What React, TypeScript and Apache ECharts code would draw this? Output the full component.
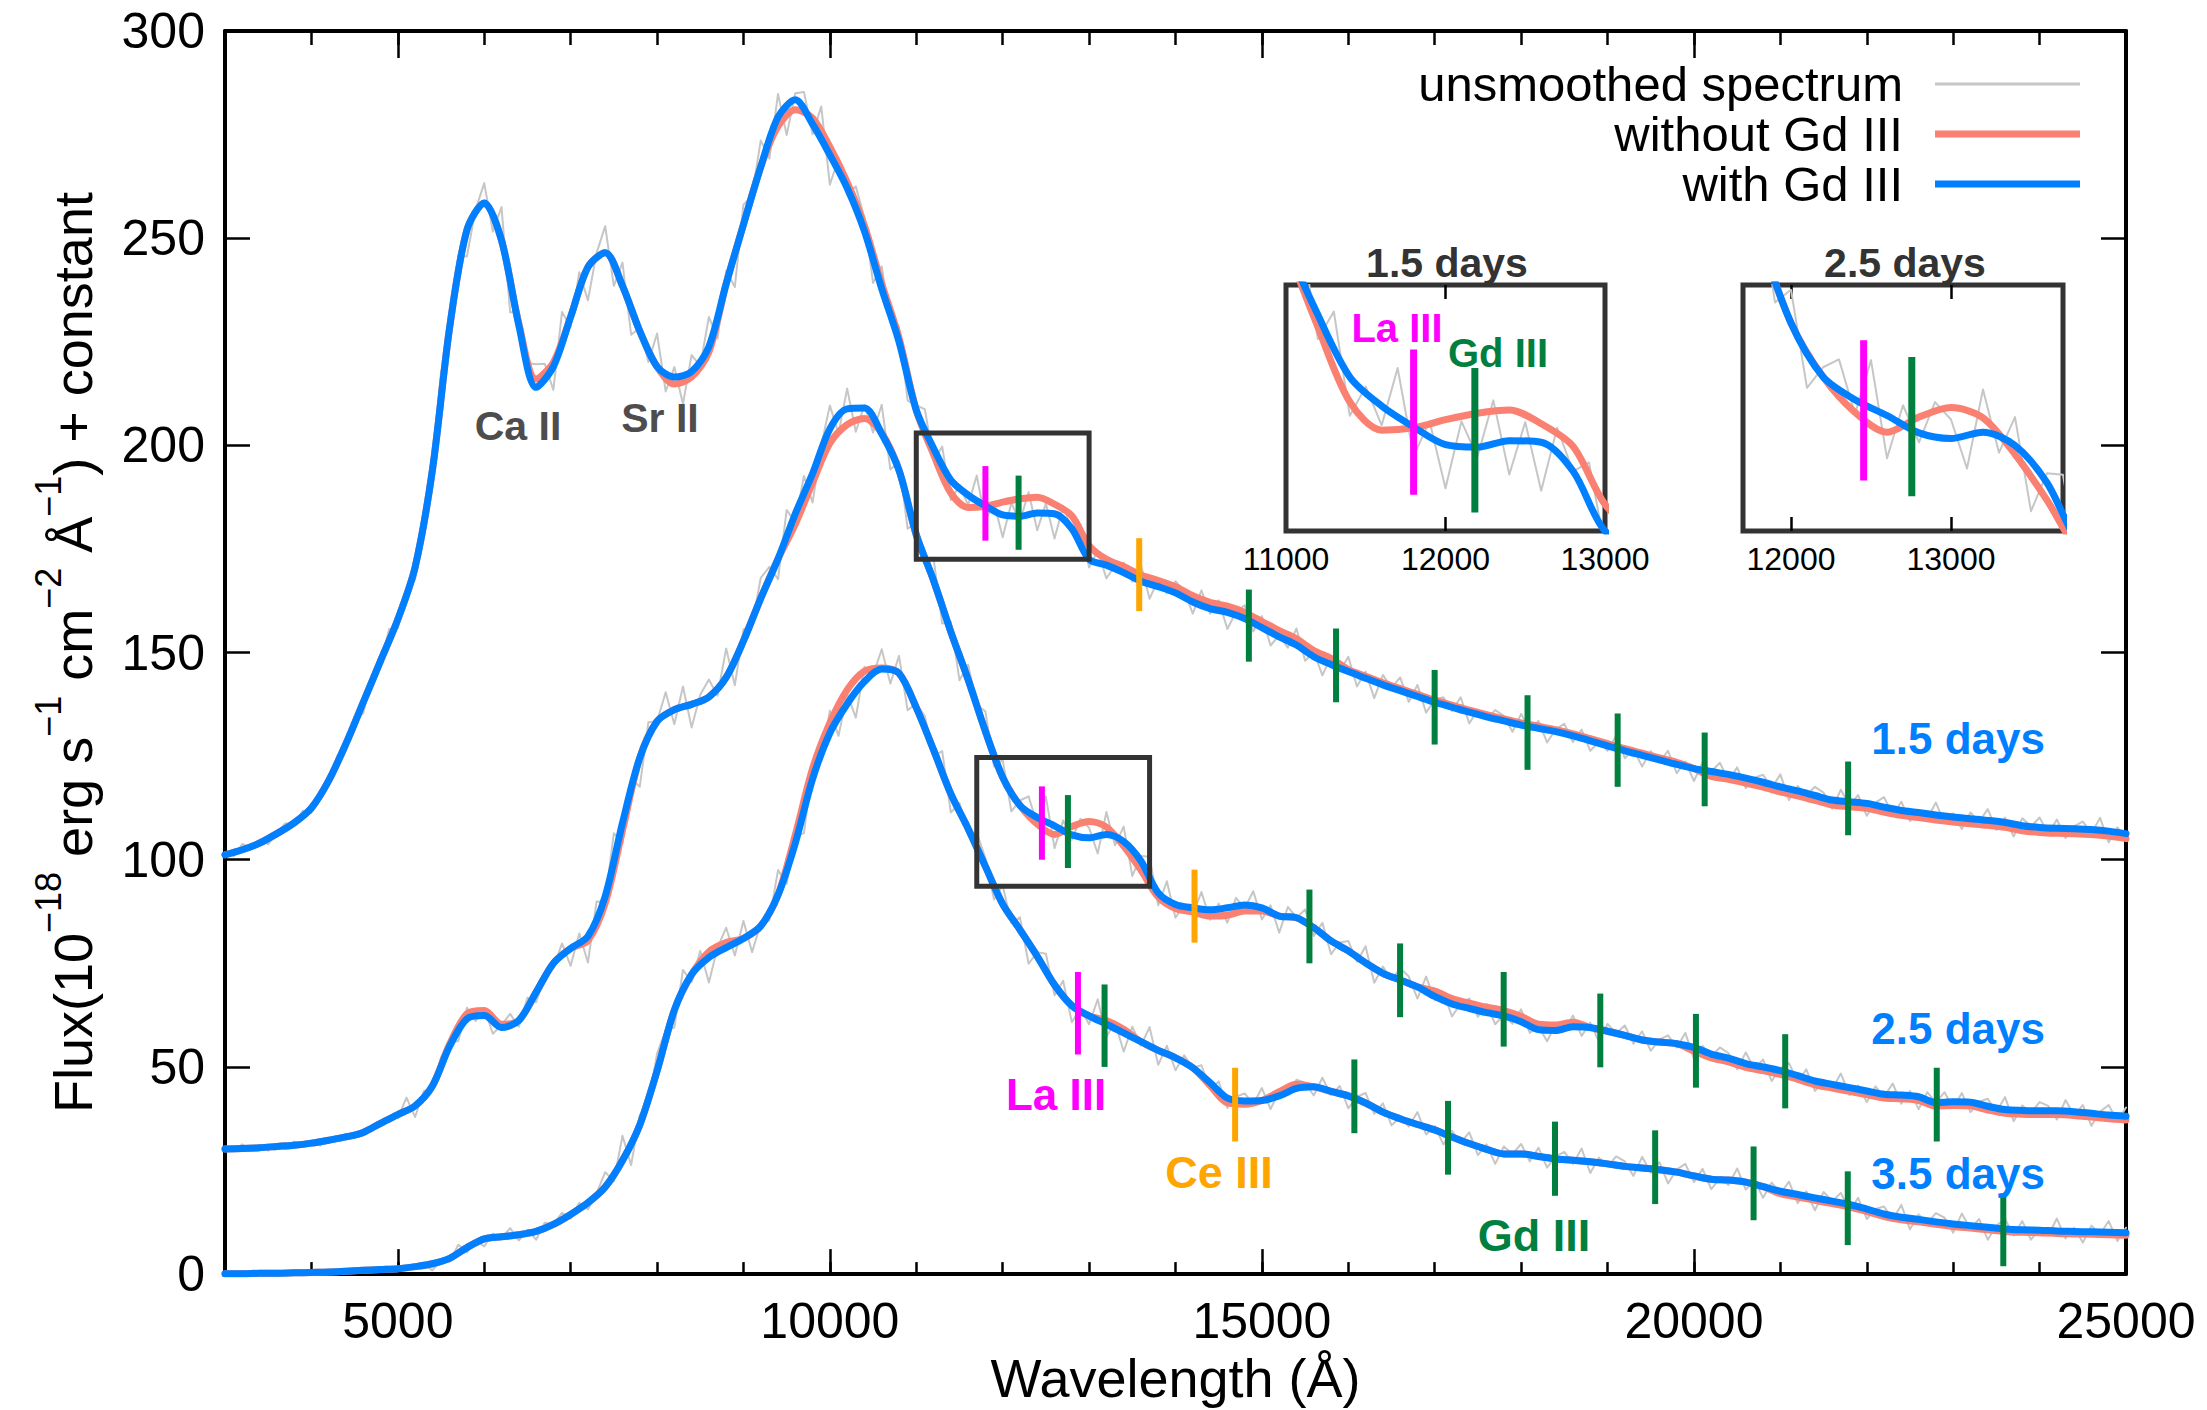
import React, { useEffect, useRef } from "react";
import * as echarts from "echarts";

const W = 2207;
const H = 1410;
const FONT = "'Liberation Sans', Arial, Helvetica, sans-serif";

// wavelength grids (Angstrom)
const SMOOTH_START = 3000;
const SMOOTH_STEP = 200;
const RAW_START = 3000;
const RAW_STEP = 100;

// ---------- 1.5 days ----------
const with15 = [101.2,102.4,104.0,106.3,108.9,112.5,119.1,128,138,148,158,170.6,194,228.5,252,258.5,249.5,229,214,219,231,243,246.5,238.5,227.6,219,216.5,217.8,223.8,239,253.3,267.2,279.2,283.4,277.5,270.1,262.1,251.7,237.8,225,208.5,199.3,191.6,188,185.4,183.2,182.9,183.7,183.5,179.9,172.5,171.1,169.3,167.2,165.9,164.4,162.2,160.6,159.7,158.2,156,153.8,151.8,149,147.1,145.4,143.8,142.2,140.8,139.4,138,136.8,135.6,134.5,133.5,132.5,131.7,130.9,129.9,128.7,127.5,126.3,125.2,124.1,123,122,121.3,120.6,119.7,118.7,117.6,116.6,115.5,114.4,114,113.6,112.7,111.9,111.4,110.8,110.3,109.9,109.5,109,108.2,107.8,107.6,107.5,107.3,106.9,106.3];
const without15 = [101.2,102.4,104.0,106.3,108.9,112.5,119.1,128,138,148,158,170.6,194,228.5,252,258.5,249.5,229.5,216,220,231,243,246.5,238.5,227.6,219,214.8,216.5,222.5,239,253.3,267.2,277,281,279,272,263.5,253,239,226,208.5,197.8,188.5,185,185.3,186.3,187.1,187.5,185.8,183,175.8,172.5,170.8,168.7,167.4,165.9,163.7,162.1,161.2,159.7,157.5,155.3,153.3,150.5,148.6,145.9,144.3,142.7,141.3,139.9,138.5,137.3,136.1,135,134,133,132.2,131.4,130.4,129.2,128,126.8,125.7,124.6,123.5,122,120.1,119.4,118.5,117.5,116.4,115.4,114.3,113.2,112.8,112.4,111.5,110.7,110.2,109.6,109.1,108.7,108.3,107.8,107,106.6,106.4,106.3,106.1,105.7,105.1];
const raw15 = [101.8,100.8,103.8,102.8,104.9,103.7,106.6,108.8,108.2,111.8,111.3,116.0,118.5,125.1,127.1,133.9,135.3,144.5,147.4,155.7,155.9,165.5,167.6,184.1,194,217.7,224.5,245.9,245.6,256.9,263.3,251.6,257.5,232.1,232.2,219.9,219.6,219.7,213.4,232.2,228.6,241.8,235,246.4,252.9,238.5,244.1,226.7,228.4,220.1,227,213,218.9,210,221.8,219.2,231,225.8,242.2,238.2,258.1,260.3,273.6,269.2,284.8,274.9,285,285.3,275.1,281.8,262.9,269.3,260.5,262.5,254.9,239.2,243.2,229.6,228.6,210.8,209.7,208.7,196.3,199.7,186.8,190.4,185.6,192.7,181.8,186.1,177.8,186.1,181.7,188.7,179.5,186,177.5,185.3,179.9,181,170.5,174.6,167.9,171,171.7,167.1,171.2,163,167.5,164.4,167.2,164.9,159.4,165,159.4,162.6,155.7,159.8,161.4,155.1,158.8,151.7,154.2,151.2,155.8,148,150.2,144.5,149.1,145.5,149,141.8,145.4,139,144.6,141.5,144,138.1,142.2,135.5,138.6,139.2,135.9,139.2,132.9,136.3,133.9,136.1,134.7,130.9,135.2,131.2,133.5,128.3,131.5,132.8,128.4,131.4,126.3,128.4,126.3,129.9,124.5,126.7,122.5,126.2,123.5,126.3,120.9,123.7,119,123.5,121.3,123.4,119.1,122.3,117.3,119.8,120.5,117.3,120.6,114.4,117.8,115.5,117.6,116.2,112.3,116.9,113.1,115.6,110.6,113.8,115.1,110.8,114,109.3,111.7,109.9,113.8,108.8,111.2,107.4,111.4,109.1,112.2,107.2,110.2,105.6,110,108,110.2,106.2,109.7,105.2,108.1,109.2,106.4,110.1,104.2,107.8,105.7];

// ---------- 2.5 days ----------
const with25 = [30.2,30.3,30.5,30.8,31.1,31.6,32.3,33.1,34.2,36.4,38.5,40.6,45.4,55,61.6,62.4,59.5,61.2,68,75,78.6,81.5,91.2,108.9,124.6,133.4,136.2,137.5,139.3,144,152.8,163.1,172.6,183.5,193.2,204,208.8,209,202.8,194,178.4,167.4,155,143.5,131,119.9,113.1,110.2,108.2,106,105.3,106.1,104.4,99.7,92,89.2,88.4,87.9,88.4,89.1,88.4,86.4,86,83.6,80.4,78,75.1,72.6,71,69.3,67,65.2,64.1,63.1,62.3,60.9,59,58.8,59.7,59.5,58.6,57.6,56.5,56,55.6,54.7,53.1,52.1,50.8,50,49.1,47.9,46.6,45.8,45,44.2,43.4,43.2,42.8,41.4,41.6,41.5,40.5,39.7,39.5,39.4,39.4,39.2,38.8,38.4,38.1];
const without25 = [30.2,30.3,30.5,30.8,31.1,31.6,32.3,33.1,34.2,36.4,38.5,40.6,45.4,55.5,62.8,63.6,60.3,61.2,68,75,78.6,80.5,89.5,107,124.6,133.4,136.2,137.5,139.3,144,152.8,163.1,172.6,181,191,200.5,205,206.5,203,194,178.4,167.4,155,143.5,131,119.9,113.1,108.6,106.1,108,109.2,107.9,103.3,97.5,91,88.2,87.4,86.4,86.6,87.6,87.6,86.4,86,83.6,80.4,78,75.1,72.6,71,69.3,68.3,66.5,65.4,64.4,63.6,62.2,60.3,60.1,60.8,59.5,58.6,57.6,56.5,56,55.6,53.8,52.2,51.2,49.9,49.1,48.2,47,45.7,44.9,44.1,43.3,42.5,42.3,41.9,40.5,40.7,40.6,39.6,38.8,38.6,38.5,38.5,38.3,37.9,37.5,37.2];
const raw25 = [30.3,29.9,31.3,29.8,30.8,29.8,31.3,30.8,32,30.7,32,31,32.9,32.7,33.9,33.2,34.9,34.5,36.6,38.1,37.6,42.6,37.9,44.2,44.8,52.3,56.2,56.2,64.3,61.1,64.2,58,60.1,62.8,59.7,66.7,65.6,71.8,73.8,79.8,74.4,82.2,75.2,89.9,89.8,106.4,104,119.6,117.6,133.2,133.4,140.4,132.7,141.8,131.9,139.8,143.5,139.6,151,142.1,155.6,156.6,168,170.7,167.7,184.4,181.4,192.6,186.2,200,209.6,202.9,213.7,203.3,209.7,203.1,209.8,194.2,196.1,179.9,181.4,171.7,172.8,157,157.4,143.3,147.1,137.3,135.8,122.5,124.1,111.7,114.3,115.3,108.4,115.2,102.8,109.5,104.8,109.9,107.7,101.5,111.5,103.5,108,96.1,100.9,100.7,89,94.8,86,89.2,86.8,92.2,85.5,89.4,84.8,90.8,88.3,92.4,85.6,89,82.4,88.6,86,88,81.6,84.8,77.2,80,80.4,75.4,79.1,70.3,74.2,71,73.8,71.8,66.5,71.8,66.1,67.9,62.2,65.3,66.5,62.1,65.2,60.3,62.6,60.4,63.9,58.2,59.9,56.2,60.3,58.7,62.4,57.5,60.7,56.1,60.4,58.1,60,55.6,58.6,53.9,56.6,57.6,54.7,58.2,52,55.1,52.5,54.7,53.3,49.4,53.5,49.5,51.8,46.6,49.7,50.9,46.4,49.4,44.2,46.5,44.6,48.4,43.2,45.5,41.5,45.3,42.8,46,41.1,44.2,39.8,43.9,41.4,43.9,40.1,43.7,39.1,41.6,42.3,39.2,42.7,36.9,40.7,38.9,41.5,40.6,37.3,42,38.3,40.8,35.8,39.2,40.8,36.8,40.2];

// ---------- 3.5 days ----------
const with35 = [0.1,0.1,0.2,0.2,0.3,0.4,0.5,0.7,0.9,1.1,1.3,1.8,2.5,3.8,6.4,8.5,9,9.5,10.3,12,14.4,17.2,21,27.4,36,49,63.7,72.3,76.4,78.8,81,84,91.5,104,119.5,130.6,137.6,143,146,145,136.7,126.5,115.9,107.5,98.4,89.3,83.1,76.7,69.8,64.8,62.3,60.3,58.2,56.1,54,52.2,49.8,46.2,42.5,41.8,41.9,43,44.8,45.2,44.1,43,41.3,39.1,37.5,36.1,34.8,33.1,31.5,30.1,29,29,28.4,27.8,27.5,27.1,26.6,26,25.6,25.2,24.6,23.7,22.9,22.7,22.2,21.1,20,19.2,18.4,17.6,16.8,15.7,14.5,13.7,13.2,12.6,12.1,11.7,11.3,10.9,10.7,10.6,10.4,10.3,10.2,10.1,10];
const without35 = [0.1,0.1,0.2,0.2,0.3,0.4,0.5,0.7,0.9,1.1,1.3,1.8,2.5,3.8,6.4,8.5,9,9.5,10.3,12,14.4,17.2,21,27.4,36,49,63.7,72.3,77.8,80,81,84,91.5,106,122,133,141,145.5,146.3,145,136.7,126.5,115.9,107.5,98.4,89.3,83.1,76.7,69.8,64.8,62.3,61.2,59.1,56.1,54,52.2,49.8,45.5,41.3,41,41.9,44,45.8,45.2,44.1,43,41.3,39.1,37.5,36.1,34.8,33.1,31.5,30.1,29,29,28.4,27.8,27.5,27.1,26.6,26,25.6,25.2,24.6,23.7,22.9,22.7,22.2,21.1,19.4,18.6,17.8,17,16.2,15.1,13.9,13.1,12.6,12,11.5,11.1,10.7,10.3,10.1,10,9.8,9.7,9.6,9.5,9.4];
const raw35 = [0.3,0.1,0.4,0,0.5,-0.1,0.3,0.5,0.2,0.8,0,0.6,0.4,0.9,0.9,0.5,1.3,0.9,1.3,0.8,1.4,1.9,1.6,2.4,0.9,3.4,3,7.1,5.2,8.1,6.7,9.8,8.6,11.1,8.1,10.7,8.3,12.4,12,14.8,13.4,17.2,15.6,19.5,24.6,22.4,33.4,26.3,38.4,41.3,53.2,58.8,59.5,73.4,70.5,78,70.4,78.8,83.6,76.9,85.2,77.7,84.6,85.4,97.5,94.2,105.8,106.4,122.5,123.9,136,129.9,140,134.3,146.6,144.5,150.8,142.5,149.2,136.1,137.7,134.6,125,126.2,111.4,113.7,106.5,106.5,100.4,90.4,93.8,84.7,86.1,74.9,77.7,77.3,67.3,70.8,60.8,64.1,60.3,66.3,57.3,60.8,53.7,59.7,55.1,59.6,50.5,55.1,49.2,52.8,49.8,50.4,44.7,46.5,40.1,42.8,43.6,41,44.9,39.8,44.2,43.3,46.9,46.2,43.1,47.4,43.2,45.4,40,42.8,43.7,38.7,41.2,35.9,37.8,35.6,39.1,33.7,35.7,31.3,34.6,31.7,34.2,28.7,31.3,26.6,30.8,29,31.4,27.2,30.5,25.7,28.4,29.5,26.6,30.3,24.4,28.1,26,28.4,27.2,23.7,28.3,24.5,27,21.9,25.2,26.6,22.2,25.4,20.5,23.1,21.5,25.5,20.4,22.6,18.4,22.1,19.4,22.3,17.1,20,15.4,19.8,17.6,19.6,15.3,18.4,13.3,15.7,16.3,13.2,16.7,10.8,14.4,12.3,14.7,13.6,10,14.6,10.8,13.3,8.3,11.7,13.3,9.3,12.8,8.3,10.9,9.3,13.4,8.6,11.2,7.6,11.7,9.6,12.8,8,11.2];

// ---------- line identifications: [wavelength, yLow, yHigh] ----------
const laLines = [[11800, 177, 195], [12454, 100, 117.7], [12871, 53, 72.9]];
const ceLines = [[13580, 160, 177.6], [14220, 80, 97.6], [14690, 32, 49.8]];
const gdLines = [
  [12184, 174.8, 192.7], [14849, 147.8, 165.2], [15858, 138, 155.8], [16999, 127.8, 145.8], [18074, 121.7, 139.7], [19117, 117.6, 135.3], [20124, 112.9, 130.7], [21784, 105.9, 123.7],
  [12755, 98, 115.6], [15550, 75, 92.8], [16599, 62, 79.8], [17798, 54.9, 72.9], [18916, 49.9, 67.7], [20023, 45, 62.8], [21056, 40, 57.9], [22810, 32, 49.8],
  [13179, 50, 69.9], [16070, 34, 51.8], [17154, 24, 41.8], [18392, 18.9, 36.8], [19551, 16.9, 34.7], [20690, 13, 30.8], [21780, 7, 24.8], [23580, 1.9, 19.5],
];

// zoom regions: [xMin, xMax, yMin, yMax]
const zoom15 = [11000, 13000, 172.5, 203];
const zoom25 = [11700, 13700, 93.6, 124.7];

const xTicksMajor = [5000, 10000, 15000, 20000, 25000];

const C_BLUE = "#0080ff";
const C_RED = "#fa8072";
const C_GREY = "#c6c6c6";
const C_LA = "#ff00ff";
const C_CE = "#ffa500";
const C_GD = "#007f3f";
const C_BOX = "#333333";

const plain = (v: number) => String(v);

function pairs(start: number, step: number, arr: number[]) {
  return arr.map((v, i) => [start + i * step, v]);
}

function lineSeries(data: number[][], color: string, width: number, z: number, xi: number, yi: number, smooth: number | boolean) {
  return {
    type: "line",
    xAxisIndex: xi,
    yAxisIndex: yi,
    data,
    showSymbol: false,
    symbol: "none",
    smooth,
    clip: true,
    silent: true,
    z,
    lineStyle: { color, width, join: "round", cap: "round" },
  };
}

function markerSeries(lines: number[][], color: string, width: number, xi: number, yi: number, z: number) {
  return {
    type: "custom",
    xAxisIndex: xi,
    yAxisIndex: yi,
    data: lines,
    silent: true,
    z,
    renderItem: (params: any, api: any) => {
      const p1 = api.coord([api.value(0), api.value(1)]);
      const p2 = api.coord([api.value(0), api.value(2)]);
      return {
        type: "line",
        shape: { x1: p1[0], y1: p1[1], x2: p2[0], y2: p2[1] },
        style: { stroke: color, lineWidth: width, fill: null },
      };
    },
  };
}

function inRange(lines: number[][], r: number[]) {
  return lines.filter((l) => l[0] > r[0] && l[0] < r[1] && l[1] >= r[2] && l[2] <= r[3]);
}

function buildOption() {
  const epochs = [
    { raw: raw15, without: without15, withGd: with15 },
    { raw: raw25, without: without25, withGd: with25 },
    { raw: raw35, without: without35, withGd: with35 },
  ];
  const series: any[] = [];
  epochs.forEach((e) => {
    series.push(lineSeries(pairs(RAW_START, RAW_STEP, e.raw), C_GREY, 2, 1, 0, 0, false));
  });
  epochs.forEach((e) => {
    series.push(lineSeries(pairs(SMOOTH_START, SMOOTH_STEP, e.without), C_RED, 7, 2, 0, 0, 0.3));
  });
  epochs.forEach((e) => {
    series.push(lineSeries(pairs(SMOOTH_START, SMOOTH_STEP, e.withGd), C_BLUE, 7, 3, 0, 0, 0.3));
  });
  series.push(markerSeries(laLines, C_LA, 6, 0, 0, 5));
  series.push(markerSeries(ceLines, C_CE, 6, 0, 0, 5));
  series.push(markerSeries(gdLines, C_GD, 6, 0, 0, 5));
  // boxes marking zoom regions
  series.push({
    type: "custom",
    xAxisIndex: 0,
    yAxisIndex: 0,
    data: [zoom15, zoom25],
    silent: true,
    z: 6,
    renderItem: (params: any, api: any) => {
      const a = api.coord([api.value(0), api.value(3)]);
      const b = api.coord([api.value(1), api.value(2)]);
      return {
        type: "rect",
        shape: { x: a[0], y: a[1], width: b[0] - a[0], height: b[1] - a[1] },
        style: { stroke: C_BOX, lineWidth: 5, fill: "none" },
      };
    },
  });
  // insets
  const insets = [
    { e: epochs[0], xi: 4, yi: 2, r: zoom15 },
    { e: epochs[1], xi: 6, yi: 3, r: zoom25 },
  ];
  insets.forEach((ins) => {
    series.push(lineSeries(pairs(RAW_START, RAW_STEP, ins.e.raw), C_GREY, 2, 1, ins.xi, ins.yi, false));
    series.push(lineSeries(pairs(SMOOTH_START, SMOOTH_STEP, ins.e.without), C_RED, 7, 2, ins.xi, ins.yi, 0.3));
    series.push(lineSeries(pairs(SMOOTH_START, SMOOTH_STEP, ins.e.withGd), C_BLUE, 7, 3, ins.xi, ins.yi, 0.3));
    series.push(markerSeries(inRange(laLines, ins.r), C_LA, 7, ins.xi, ins.yi, 5));
    series.push(markerSeries(inRange(gdLines, ins.r), C_GD, 7, ins.xi, ins.yi, 5));
  });

  const axisLine = (show: boolean) => ({ show, onZero: false, lineStyle: { color: "#000", width: 4 } });
  const tick = (len: number, custom?: number[]) => ({
    show: true,
    inside: true,
    length: len,
    lineStyle: { color: "#000", width: 2.5 },
    ...(custom ? { customValues: custom } : {}),
  });

  const mainX = { gridIndex: 0, type: "value", min: 3000, max: 25000, splitLine: { show: false } };
  const xAxis: any[] = [
    {
      ...mainX,
      position: "bottom",
      interval: 1000,
      axisLine: axisLine(true),
      axisTick: tick(12),
      axisLabel: { customValues: xTicksMajor, formatter: plain, fontSize: 50, fontFamily: FONT, color: "#000", margin: 22 },
      name: "Wavelength (Å)",
      nameLocation: "middle",
      nameGap: 66,
      nameTextStyle: { fontSize: 54, fontFamily: FONT, color: "#000" },
    },
    { ...mainX, position: "bottom", axisLine: { show: false, onZero: false }, axisTick: tick(25, xTicksMajor), axisLabel: { show: false } },
    { ...mainX, position: "top", interval: 1000, axisLine: axisLine(true), axisTick: tick(14), axisLabel: { show: false } },
    { ...mainX, position: "top", axisLine: { show: false, onZero: false }, axisTick: tick(27, xTicksMajor), axisLabel: { show: false } },
  ];
  const insetX = (gi: number, r: number[], labels: number[], ticks: number[]) => [
    {
      gridIndex: gi, type: "value", min: r[0], max: r[1], position: "bottom",
      splitLine: { show: false },
      axisLine: { show: false, onZero: false },
      axisTick: tick(14, ticks),
      axisLabel: { customValues: labels, formatter: plain, fontSize: 32, fontFamily: FONT, color: "#000", margin: 12, showMinLabel: true, showMaxLabel: true },
    },
    {
      gridIndex: gi, type: "value", min: r[0], max: r[1], position: "top",
      splitLine: { show: false },
      axisLine: { show: false, onZero: false },
      axisTick: tick(14, ticks),
      axisLabel: { show: false },
    },
  ];
  xAxis.push(...insetX(1, zoom15, [11000, 12000, 13000], [12000]));
  xAxis.push(...insetX(2, zoom25, [12000, 13000], [12000, 13000]));

  const yName =
    "{a|Flux(10}{s|−18}{a| erg s}{s|−1}{a| cm}{s|−2}{a| Å}{s|−1}{a|) + constant}";
  const yAxis: any[] = [
    {
      gridIndex: 0, type: "value", min: 0, max: 300, interval: 50, position: "left",
      splitLine: { show: false },
      axisLine: axisLine(true),
      axisTick: tick(25),
      axisLabel: { formatter: plain, fontSize: 50, fontFamily: FONT, color: "#000", margin: 20 },
      name: yName,
      nameLocation: "middle",
      nameGap: 125,
      nameTextStyle: {
        fontSize: 54,
        fontFamily: FONT,
        color: "#000",
        rich: {
          a: { fontSize: 54, fontFamily: FONT, color: "#000", lineHeight: 70, verticalAlign: "bottom" },
          s: { fontSize: 36, fontFamily: FONT, color: "#000", lineHeight: 38, verticalAlign: "top" },
        },
      },
    },
    {
      gridIndex: 0, type: "value", min: 0, max: 300, interval: 50, position: "right",
      splitLine: { show: false },
      axisLine: axisLine(true),
      axisTick: tick(25),
      axisLabel: { show: false },
    },
    { gridIndex: 1, type: "value", min: zoom15[2], max: zoom15[3], show: false },
    { gridIndex: 2, type: "value", min: zoom25[2], max: zoom25[3], show: false },
  ];

  const grid = [
    { left: 225, top: 31, width: 1901, height: 1246, containLabel: false },
    { left: 1286, top: 285, width: 319, height: 246, show: true, borderColor: C_BOX, borderWidth: 5, backgroundColor: "transparent", containLabel: false },
    { left: 1743, top: 285, width: 320, height: 246, show: true, borderColor: C_BOX, borderWidth: 5, backgroundColor: "transparent", containLabel: false },
  ];

  const txt = (text: string, x: number, y: number, size: number, color: string, align: string, bold = true) => ({
    type: "text",
    x,
    y,
    z: 100,
    silent: true,
    style: {
      text,
      fill: color,
      fontSize: size,
      fontWeight: bold ? "bold" : "normal",
      fontFamily: FONT,
      align,
      verticalAlign: "middle",
    },
  });
  const seg = (x1: number, y: number, x2: number, color: string, w: number) => ({
    type: "line",
    z: 100,
    silent: true,
    shape: { x1, y1: y, x2, y2: y },
    style: { stroke: color, lineWidth: w },
  });

  const graphic = [
    // legend
    txt("unsmoothed spectrum", 1903, 84, 49, "#000", "right", false),
    txt("without Gd III", 1903, 134, 49, "#000", "right", false),
    txt("with Gd III", 1903, 184, 49, "#000", "right", false),
    seg(1935, 84, 2080, C_GREY, 3),
    seg(1935, 134, 2080, C_RED, 7),
    seg(1935, 184, 2080, C_BLUE, 7),
    // annotations
    txt("Ca II", 518, 426, 41, "#4d4d4d", "center"),
    txt("Sr II", 660, 418, 41, "#4d4d4d", "center"),
    txt("1.5 days", 2045, 738, 44, C_BLUE, "right"),
    txt("2.5 days", 2045, 1028, 44, C_BLUE, "right"),
    txt("3.5 days", 2045, 1173, 44, C_BLUE, "right"),
    txt("La III", 1056, 1094, 44, C_LA, "center"),
    txt("Ce III", 1219, 1172, 45, C_CE, "center"),
    txt("Gd III", 1534, 1235, 45, C_GD, "center"),
    // inset titles & labels
    txt("1.5 days", 1447, 263, 41, "#333333", "center"),
    txt("2.5 days", 1905, 263, 41, "#333333", "center"),
    txt("La III", 1397, 328, 40, C_LA, "center"),
    txt("Gd III", 1498, 353, 40, C_GD, "center"),
  ];

  return {
    animation: false,
    backgroundColor: "#ffffff",
    textStyle: { fontFamily: FONT },
    grid,
    xAxis,
    yAxis,
    series,
    graphic,
  };
}

export default function App() {
  const ref = useRef<HTMLDivElement>(null);
  useEffect(() => {
    document.body.style.margin = "0";
    const chart = echarts.init(ref.current as HTMLDivElement, null, { renderer: "svg", width: W, height: H });
    chart.setOption(buildOption() as any);
    return () => {
      chart.dispose();
    };
  }, []);
  return (
    <div
      ref={ref}
      style={{ position: "absolute", left: 0, top: 0, width: W, height: H, background: "#fff" }}
    />
  );
}
